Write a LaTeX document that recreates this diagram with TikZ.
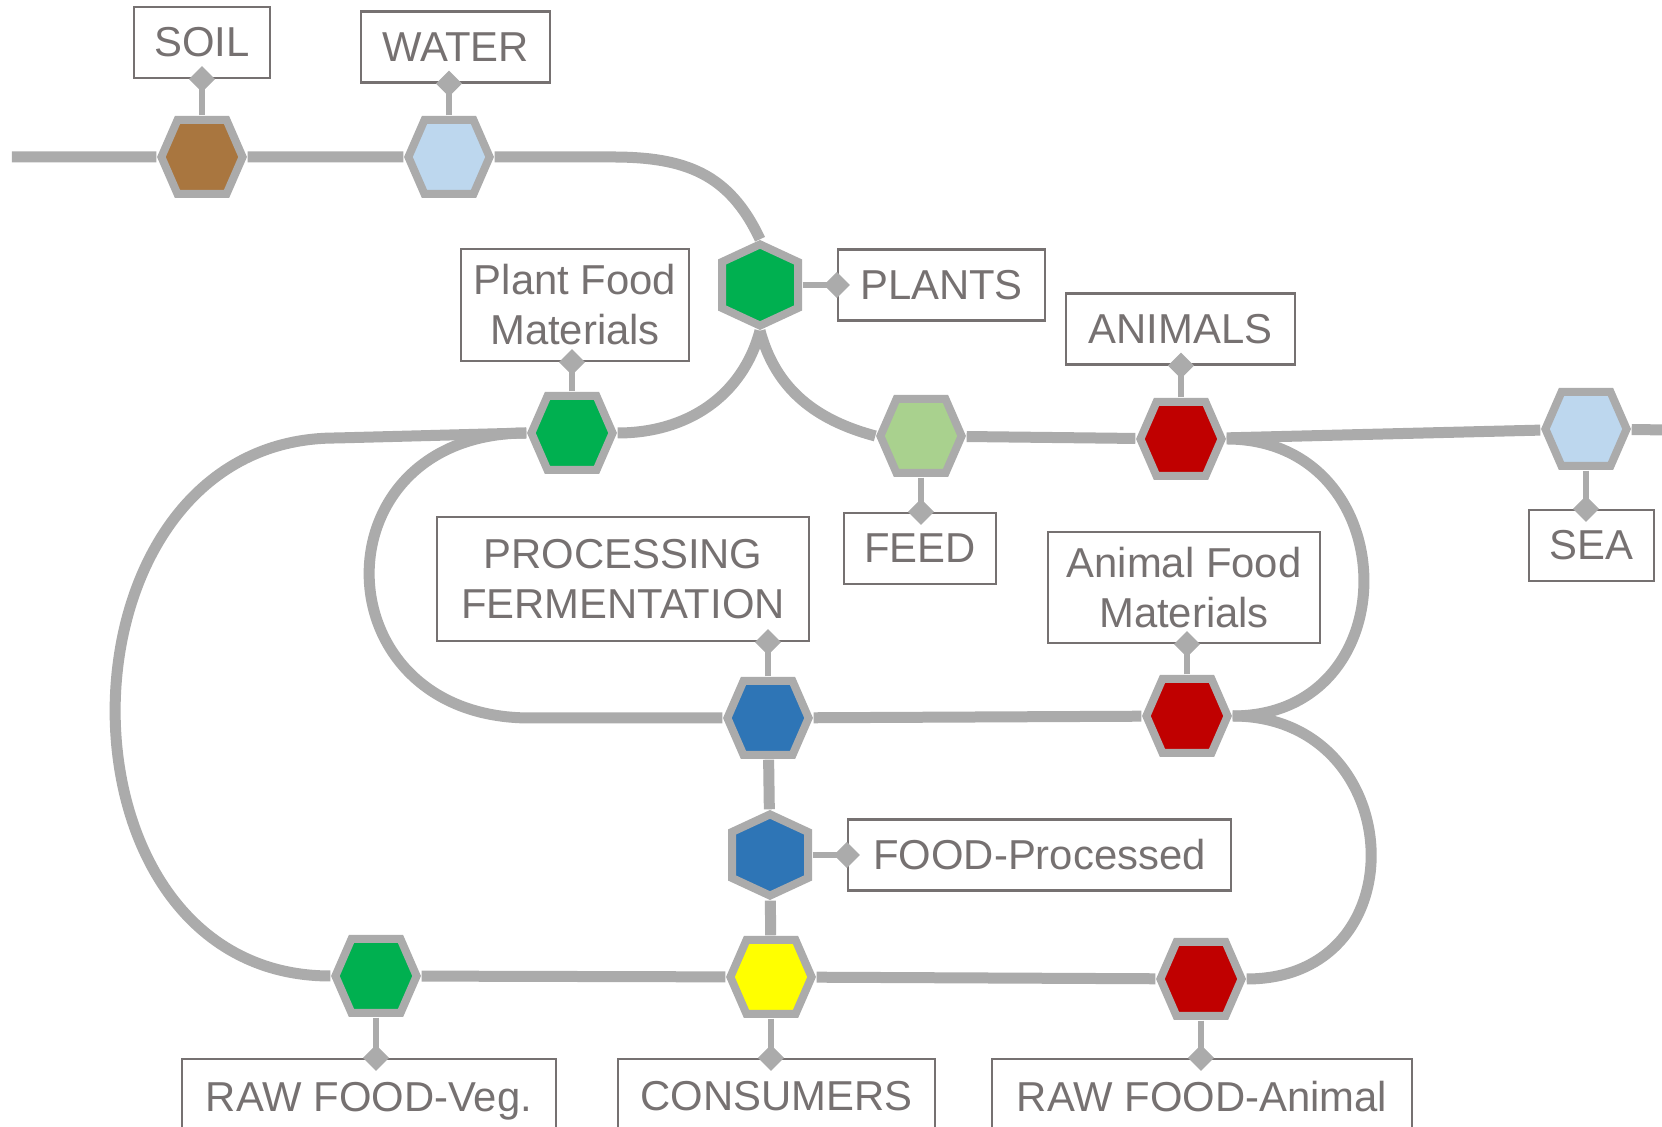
\documentclass[tikz,border=0pt]{standalone}
\usepackage{fontspec}
\setmainfont{Liberation Sans}
\usetikzlibrary{arrows.meta,backgrounds}

\definecolor{railgray}{HTML}{ABABAB}
\definecolor{txtgray}{HTML}{767171}
\definecolor{soilbrown}{HTML}{A9763F}
\definecolor{waterblue}{HTML}{BDD7EE}
\definecolor{plantgreen}{HTML}{00B050}
\definecolor{feedgreen}{HTML}{A9D18E}
\definecolor{meatred}{HTML}{C00000}
\definecolor{procblue}{HTML}{2E75B6}
\definecolor{consyellow}{HTML}{FFFF00}

\tikzset{
	rail/.style={draw=railgray, line width=1.1mm},
	hexa/.style={rectangle, minimum width=9mm, minimum height=8.2mm, inner sep=0pt,
		path picture={\filldraw[shift={(path picture bounding box.center)}, draw=railgray, fill=#1, line width=0.8mm]
			(-4.06mm,0) -- (-2.45mm,3.7mm) -- (2.45mm,3.7mm) -- (4.06mm,0) -- (2.45mm,-3.7mm) -- (-2.45mm,-3.7mm) -- cycle;}},
	hexp/.style={rectangle, minimum width=8.4mm, minimum height=9mm, inner sep=0pt,
		path picture={\filldraw[shift={(path picture bounding box.center)}, draw=railgray, fill=#1, line width=0.8mm]
			(0,-4.06mm) -- (3.8mm,-2.3mm) -- (3.8mm,2.3mm) -- (0,4.06mm) -- (-3.8mm,2.3mm) -- (-3.8mm,-2.3mm) -- cycle;}},
	lbl/.style={draw=txtgray, line width=0.6pt, fill=white, text=txtgray, font=\fontsize{11.9}{14.2}\selectfont,
		align=center, inner sep=0pt, minimum height=7.1mm},
	stem/.style={draw=railgray, line width=0.55mm, -{Diamond[length=2.6mm,width=2.6mm]}, shorten >=-1.3mm}
}

\begin{document}
\begin{tikzpicture}
			\useasboundingbox (0,0) rectangle (16.62,-11.27);
			\node[hexa=soilbrown] (soil) at (2.02,-1.57) {};
			\node[hexa=waterblue] (water) at (4.49,-1.57) {};
			\node[hexp=plantgreen] (plants) at (7.60,-2.85) {};
			\node[hexa=plantgreen] (plantfood) at (5.72,-4.33) {};
			\node[hexa=feedgreen] (feed) at (9.21,-4.36) {};
			\node[hexa=meatred] (animals) at (11.81,-4.39) {};
			\node[hexa=waterblue] (sea) at (15.86,-4.29) {};
			\node[hexa=procblue] (proc) at (7.68,-7.18) {};
			\node[hexa=meatred] (animalfood) at (11.87,-7.16) {};
			\node[hexp=procblue] (foodproc) at (7.70,-8.55) {};
			\node[hexa=plantgreen] (rawveg) at (3.76,-9.76) {};
			\node[hexa=consyellow] (consumers) at (7.71,-9.77) {};
			\node[hexa=meatred] (rawanimal) at (12.01,-9.79) {};
			\coordinate (westend) at (0.12,-1.57);
			\coordinate (topbend) at (6.12,-1.57);
			\coordinate (outerbend) at (3.36,-4.38);
			\coordinate (innerend) at (5.30,-7.18);
			\coordinate (eastend) at (16.70,-4.30);

			\node[lbl, minimum width=13.6mm] (soillbl) at (2.02,-0.425) {SOIL};
			\node[lbl, minimum width=18.9mm] (waterlbl) at (4.555,-0.47) {WATER};
			\node[lbl, minimum width=20.7mm] (plantslbl) at (9.415,-2.85) {PLANTS};
			\node[lbl, minimum width=22.8mm, minimum height=11.2mm] (plantfoodlbl) at (5.75,-3.05) {Plant Food\\Materials};
			\node[lbl, minimum width=22.9mm] (animalslbl) at (11.805,-3.29) {ANIMALS};
			\node[lbl, minimum width=15.2mm] (feedlbl) at (9.20,-5.485) {FEED};
			\node[lbl, minimum width=12.5mm] (sealbl) at (15.915,-5.455) {SEA};
			\node[lbl, minimum width=37.2mm, minimum height=12.4mm] (proclbl) at (6.23,-5.79) {PROCESSING\\FERMENTATION};
			\node[lbl, minimum width=27.2mm, minimum height=11.1mm] (animalfoodlbl) at (11.84,-5.875) {Animal Food\\Materials};
			\node[lbl, minimum width=38.3mm] (foodproclbl) at (10.395,-8.55) {FOOD-Processed};
			\node[lbl, minimum width=37.4mm, minimum height=7.5mm, text depth=0pt] (rawveglbl) at (3.69,-10.965) {RAW FOOD-Veg.};
			\node[lbl, minimum width=31.7mm, minimum height=7.5mm] (consumerslbl) at (7.765,-10.965) {CONSUMERS};
			\node[lbl, minimum width=42.0mm, minimum height=7.5mm] (rawanimallbl) at (12.02,-10.965) {RAW FOOD-Animal};

			\draw[stem] (soil.north) -- (soil.north |- soillbl.south);
			\draw[stem] (water.north) -- (water.north |- waterlbl.south);
			\draw[stem] (plants.east) -- (plants.east -| plantslbl.west);
			\draw[stem] (plantfood.north) -- (plantfood.north |- plantfoodlbl.south);
			\draw[stem] (feed.south) -- (feed.south |- feedlbl.north);
			\draw[stem] (animals.north) -- (animals.north |- animalslbl.south);
			\draw[stem] (sea.south) -- (sea.south |- sealbl.north);
			\draw[stem] (proc.north) -- (proc.north |- proclbl.south);
			\draw[stem] (animalfood.north) -- (animalfood.north |- animalfoodlbl.south);
			\draw[stem] (foodproc.east) -- (foodproc.east -| foodproclbl.west);
			\draw[stem] (rawveg.south) -- (rawveg.south |- rawveglbl.north);
			\draw[stem] (consumers.south) -- (consumers.south |- consumerslbl.north);
			\draw[stem] (rawanimal.south) -- (rawanimal.south |- rawanimallbl.north);

			\begin{scope}[on background layer]
				\draw[rail] (westend) -- (soil) -- (water) -- (topbend) to[out=0,in=115,looseness=1.1] (plants.north);
				\draw[rail] (plants.south) to[out=-105,in=0] (plantfood.east);
				\draw[rail] (plants.south) to[out=-75,in=165] (feed.west);
				\draw[rail] (feed) -- (animals) -- (sea) -- (eastend);
				\draw[rail] (plantfood.west) -- (outerbend) to[out=180,in=180,looseness=1.38] (rawveg.west);
				\draw[rail] (plantfood.west) to[out=180,in=180,looseness=1.9] (innerend) -- (proc) -- (animalfood);
				\draw[rail] (animals.east) to[out=0,in=0,looseness=1.65] (animalfood.east);
				\draw[rail] (animalfood.east) to[out=0,in=0,looseness=1.7] (rawanimal.east);
				\draw[rail] (proc) -- (foodproc) -- (consumers);
				\draw[rail] (rawveg) -- (consumers) -- (rawanimal);
			\end{scope}
		\end{tikzpicture}
\end{document}
